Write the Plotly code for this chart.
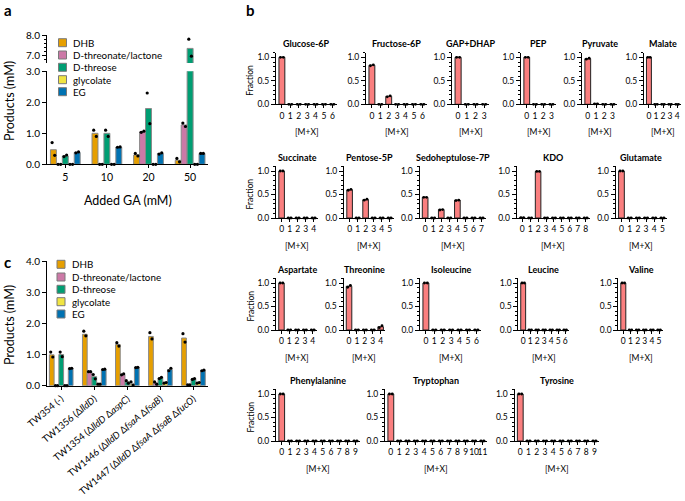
import plotly.graph_objects as go

# ------------------------------------------------------------------ data
# Panel a: products vs added glycolaldehyde (GA)
ga_levels = ["5", "10", "20", "50"]
product_names = ["DHB", "D-threonate/lactone", "D-threose", "glycolate", "EG"]
product_colors = ["#E69F00", "#CC79A7", "#009E73", "#F0E442", "#0072B2"]

a_dhb = [0.47, 1.00, 0.30, 0.13]
a_threonate = [0.0, 0.0, 1.05, 1.27]
a_threose = [0.27, 1.00, 1.80, 7.33]
a_glycolate = [0.0, 0.0, 0.0, 0.0]
a_eg = [0.38, 0.55, 0.35, 0.35]

a_dhb_rep1 = [0.70, 1.10, 0.35, 0.19]
a_dhb_rep2 = [0.29, 0.90, 0.27, 0.08]
a_threonate_rep1 = [0.0, 0.0, 1.03, 1.33]
a_threonate_rep2 = [0.0, 0.0, 1.07, 1.22]
a_threose_rep1 = [0.25, 1.10, 2.30, 7.79]
a_threose_rep2 = [0.30, 0.90, 1.31, 6.94]
a_glycolate_rep1 = [0.0, 0.0, 0.0, 0.0]
a_glycolate_rep2 = [0.0, 0.0, 0.0, 0.0]
a_eg_rep1 = [0.37, 0.55, 0.33, 0.35]
a_eg_rep2 = [0.40, 0.56, 0.37, 0.35]

# Panel c: products per strain
strains = [
    "TW354 (-)",
    "TW1356 (Δ<i>lldD</i>)",
    "TW1354 (Δ<i>lldD</i> Δ<i>aspC</i>)",
    "TW1446 (Δ<i>lldD</i> Δ<i>fsaA</i> Δ<i>fsaB</i>)",
    "TW1447 (Δ<i>lldD</i> Δ<i>fsaA</i> Δ<i>fsaB</i> Δ<i>fucO</i>)",
]
c_dhb = [0.99, 1.65, 1.32, 1.58, 1.53]
c_threonate = [0.0, 0.45, 0.36, 0.08, 0.03]
c_threose = [1.00, 0.29, 0.12, 0.25, 0.22]
c_glycolate = [0.0, 0.05, 0.05, 0.09, 0.09]
c_eg = [0.56, 0.52, 0.58, 0.52, 0.49]

c_dhb_rep1 = [1.08, 1.75, 1.38, 1.70, 1.67]
c_dhb_rep2 = [0.92, 1.60, 1.27, 1.50, 1.40]
c_threonate_rep1 = [0.0, 0.45, 0.35, 0.12, 0.03]
c_threonate_rep2 = [0.0, 0.45, 0.38, 0.05, 0.03]
c_threose_rep1 = [1.08, 0.36, 0.16, 0.23, 0.20]
c_threose_rep2 = [0.93, 0.22, 0.08, 0.27, 0.23]
c_glycolate_rep1 = [0.0, 0.05, 0.12, 0.08, 0.08]
c_glycolate_rep2 = [0.0, 0.05, 0.02, 0.10, 0.10]
c_eg_rep1 = [0.55, 0.52, 0.58, 0.48, 0.48]
c_eg_rep2 = [0.56, 0.53, 0.59, 0.56, 0.50]

# Panel b: isotopologue fractions [M+0 ... M+n]
metabolites = [
    "Glucose-6P", "Fructose-6P", "GAP+DHAP", "PEP", "Pyruvate", "Malate",
    "Succinate", "Pentose-5P", "Sedoheptulose-7P", "KDO", "Glutamate",
    "Aspartate", "Threonine", "Isoleucine", "Leucine", "Valine",
    "Phenylalanine", "Tryptophan", "Tyrosine",
]
fraction_mean = [
    [1.00, 0, 0, 0, 0, 0, 0],
    [0.83, 0, 0.17, 0, 0, 0, 0],
    [1.00, 0, 0, 0],
    [1.00, 0, 0, 0],
    [0.97, 0.01, 0, 0],
    [1.00, 0, 0, 0, 0],
    [1.00, 0, 0, 0, 0],
    [0.60, 0, 0.39, 0, 0, 0],
    [0.44, 0, 0.18, 0, 0.38, 0, 0, 0],
    [0.01, 0, 0.99, 0, 0, 0, 0, 0, 0],
    [1.00, 0, 0, 0, 0, 0],
    [1.00, 0, 0, 0, 0],
    [0.93, 0, 0, 0, 0.07],
    [1.00, 0, 0, 0, 0, 0, 0],
    [1.00, 0, 0, 0, 0, 0, 0],
    [1.00, 0, 0, 0, 0, 0],
    [1.00, 0, 0, 0, 0, 0, 0, 0, 0, 0],
    [1.00, 0, 0, 0, 0, 0, 0, 0, 0, 0, 0, 0],
    [1.00, 0, 0, 0, 0, 0, 0, 0, 0, 0],
]
fraction_rep1 = [
    [1.00, 0, 0, 0, 0, 0, 0],
    [0.82, 0, 0.16, 0, 0, 0, 0],
    [1.00, 0, 0, 0],
    [1.00, 0, 0, 0],
    [0.96, 0.01, 0, 0],
    [1.00, 0, 0, 0, 0],
    [1.00, 0, 0, 0, 0],
    [0.59, 0, 0.38, 0, 0, 0],
    [0.44, 0, 0.17, 0, 0.37, 0, 0, 0],
    [0.01, 0, 0.99, 0, 0, 0, 0, 0, 0],
    [1.00, 0, 0, 0, 0, 0],
    [1.00, 0, 0, 0, 0],
    [0.91, 0, 0, 0, 0.05],
    [1.00, 0, 0, 0, 0, 0, 0],
    [1.00, 0, 0, 0, 0, 0, 0],
    [1.00, 0, 0, 0, 0, 0],
    [1.00, 0, 0, 0, 0, 0, 0, 0, 0, 0],
    [1.00, 0, 0, 0, 0, 0, 0, 0, 0, 0, 0, 0],
    [1.00, 0, 0, 0, 0, 0, 0, 0, 0, 0],
]
fraction_rep2 = [
    [1.00, 0, 0, 0, 0, 0, 0],
    [0.84, 0, 0.18, 0, 0, 0, 0],
    [1.00, 0, 0, 0],
    [1.00, 0, 0, 0],
    [0.98, 0.01, 0, 0],
    [1.00, 0, 0, 0, 0],
    [1.00, 0, 0, 0, 0],
    [0.61, 0, 0.40, 0, 0, 0],
    [0.44, 0, 0.18, 0, 0.38, 0, 0, 0],
    [0.01, 0, 0.99, 0, 0, 0, 0, 0, 0],
    [1.00, 0, 0, 0, 0, 0],
    [1.00, 0, 0, 0, 0],
    [0.95, 0, 0, 0, 0.09],
    [1.00, 0, 0, 0, 0, 0, 0],
    [1.00, 0, 0, 0, 0, 0, 0],
    [1.00, 0, 0, 0, 0, 0],
    [1.00, 0, 0, 0, 0, 0, 0, 0, 0, 0],
    [1.00, 0, 0, 0, 0, 0, 0, 0, 0, 0, 0, 0],
    [1.00, 0, 0, 0, 0, 0, 0, 0, 0, 0],
]

# ------------------------------------------------------------------ layout helpers
W, H = 685, 501
FONT = "Lato, 'Open Sans', sans-serif"
BLACK = "#000000"


def px_x(p):
    return p / W


def px_y(p):
    return 1 - p / H


def xd(left, right):
    return [px_x(left), px_x(right)]


def yd(top, bottom):
    return [px_y(bottom), px_y(top)]


fig = go.Figure()
layout_axes = {}
annotations = []
shapes = []


def axis_common():
    return dict(showline=True, linecolor=BLACK, linewidth=1, showgrid=False,
                zeroline=False, ticks="outside", tickcolor=BLACK, tickwidth=1,
                automargin=False)


def text(x, y, s, size, bold=False, angle=0, xanchor="center"):
    annotations.append(dict(
        x=px_x(x), y=px_y(y), xref="paper", yref="paper", showarrow=False,
        text=f"<b>{s}</b>" if bold else s, textangle=angle,
        xanchor=xanchor, yanchor="middle",
        font=dict(family=FONT, size=size, color=BLACK)))


# ------------------------------------------------------------------ grouped bar panels (a, c)
BW = 0.143  # bar width in category units


def grouped_panel(k, means, reps1, reps2, ncat, clip_range=None):
    for j, (vals, r1, r2) in enumerate(zip(means, reps1, reps2)):
        xs = [i + (j - 2) * BW for i in range(ncat)]
        fig.add_trace(go.Bar(
            x=xs, y=vals, width=BW, xaxis=f"x{k}", yaxis=f"y{k}",
            marker=dict(color=product_colors[j], line=dict(color="#8a8a8a", width=1)),
            showlegend=False, hoverinfo="skip"))
        px_, py_ = [], []
        for i in range(ncat):
            for off, v in ((-0.22, r1[i]), (0.22, r2[i])):
                if clip_range is None or clip_range[0] <= v <= clip_range[1]:
                    px_.append(xs[i] + off * BW)
                    py_.append(v)
        fig.add_trace(go.Scatter(
            x=px_, y=py_, mode="markers", xaxis=f"x{k}", yaxis=f"y{k}",
            marker=dict(color=BLACK, size=3.2), cliponaxis=False,
            showlegend=False, hoverinfo="skip"))


a_means = [a_dhb, a_threonate, a_threose, a_glycolate, a_eg]
a_r1 = [a_dhb_rep1, a_threonate_rep1, a_threose_rep1, a_glycolate_rep1, a_eg_rep1]
a_r2 = [a_dhb_rep2, a_threonate_rep2, a_threose_rep2, a_glycolate_rep2, a_eg_rep2]

# lower segment of panel a
grouped_panel(1, a_means, a_r1, a_r2, 4, clip_range=(0, 3.0))
# upper segment (broken axis)
grouped_panel(2, a_means, a_r1, a_r2, 4, clip_range=(6.6, 8.0))

a_xrange = [-0.44, 3.43]
layout_axes["xaxis"] = dict(axis_common(), domain=xd(47, 208), anchor="y", range=a_xrange,
                            tickmode="array", tickvals=list(range(4)), ticktext=ga_levels,
                            ticklen=3, tickfont=dict(size=10.5), tickangle=0)
layout_axes["yaxis"] = dict(axis_common(), domain=yd(71.3, 164.3), anchor="x", range=[0, 3],
                            dtick=1, tickformat=".1f", ticklen=4, tickfont=dict(size=10))
layout_axes["xaxis2"] = dict(domain=xd(47, 208), anchor="y2", range=a_xrange, visible=False,
                             automargin=False)
layout_axes["yaxis2"] = dict(axis_common(), domain=yd(35, 63), anchor="x2", range=[6.6, 8.0],
                             tickmode="array", tickvals=[7, 8], ticktext=["7.0", "8.0"],
                             ticklen=4, tickfont=dict(size=10),
                             minor=dict(tickvals=[6.8, 7.2, 7.4, 7.6, 7.8], ticklen=2,
                                        ticks="outside", tickcolor=BLACK))

c_means = [c_dhb, c_threonate, c_threose, c_glycolate, c_eg]
c_r1 = [c_dhb_rep1, c_threonate_rep1, c_threose_rep1, c_glycolate_rep1, c_eg_rep1]
c_r2 = [c_dhb_rep2, c_threonate_rep2, c_threose_rep2, c_glycolate_rep2, c_eg_rep2]
grouped_panel(3, c_means, c_r1, c_r2, 5)
layout_axes["xaxis3"] = dict(axis_common(), domain=xd(47, 208), anchor="y3", range=[-0.43, 4.44],
                             tickmode="array", tickvals=list(range(5)), ticktext=strains,
                             tickangle=-40, ticklen=3, tickfont=dict(size=9.5))
layout_axes["yaxis3"] = dict(axis_common(), domain=yd(261, 385.7), anchor="x3", range=[0, 4],
                             dtick=1, tickformat=".1f", ticklen=4, tickfont=dict(size=10))

# axis titles, legends for a and c
text(128, 200, "Added GA (mM)", 12.5)
text(9, 101, "Products (mM)", 12.5, angle=-90)
text(9, 325, "Products (mM)", 12.5, angle=-90)


def manual_legend(x0, rows):
    for j, name in enumerate(product_names):
        yc = rows[j]
        shapes.append(dict(type="rect", xref="paper", yref="paper",
                           x0=px_x(x0), x1=px_x(x0 + 8), y0=px_y(yc + 4), y1=px_y(yc - 4),
                           fillcolor=product_colors[j], line=dict(color="#7a7a7a", width=1)))
        text(x0 + 12.5, yc, name, 9.8, xanchor="left")


manual_legend(58.5, [42.7, 55.0, 67.3, 79.7, 91.7])
manual_legend(57.0, [264.3, 277.0, 289.3, 301.7, 314.0])

# ------------------------------------------------------------------ panel b small multiples
row_zero_px = [104.3, 218.0, 330.0, 441.0]
PX_PER_UNIT = 47.0
b_axis_px = [  # (left, right, row)
    (276, 337, 0), (366, 427, 0), (452, 489, 0), (521, 556, 0), (582, 617, 0), (644, 681, 0),
    (276, 318, 1), (344, 394, 1), (419.5, 486, 1), (516.7, 590, 1), (615.7, 667, 1),
    (276, 317, 2), (343.5, 385, 2), (420, 481, 2), (518.3, 569, 2), (618.3, 663, 2),
    (276, 360, 3), (385, 487, 3), (514.5, 599, 3),
]
SALMON = "#FA7F7F"

for idx, name in enumerate(metabolites):
    k = idx + 4
    means = fraction_mean[idx]
    r1 = fraction_rep1[idx]
    r2 = fraction_rep2[idx]
    n = len(means)
    left, right, row = b_axis_px[idx]
    zero = row_zero_px[row]
    top = zero - 1.1 * PX_PER_UNIT
    xs = list(range(n))
    fig.add_trace(go.Bar(
        x=xs, y=means, width=0.7, xaxis=f"x{k}", yaxis=f"y{k}",
        marker=dict(color=SALMON, line=dict(color="#222222", width=1)),
        showlegend=False, hoverinfo="skip"))
    fig.add_trace(go.Scatter(
        x=[x - 0.17 for x in xs] + [x + 0.17 for x in xs], y=r1 + r2,
        mode="markers", xaxis=f"x{k}", yaxis=f"y{k}", cliponaxis=False,
        marker=dict(color=BLACK, size=2.8), showlegend=False, hoverinfo="skip"))
    layout_axes[f"xaxis{k}"] = dict(axis_common(), domain=xd(left, right), anchor=f"y{k}",
                                    range=[-0.7, n - 0.45], tickmode="linear", tick0=0, dtick=1,
                                    ticklen=3, tickangle=0, tickfont=dict(size=8.5))
    layout_axes[f"yaxis{k}"] = dict(axis_common(), domain=yd(top, zero), anchor=f"x{k}",
                                    range=[0, 1.1], tickmode="linear", tick0=0, dtick=0.5,
                                    tickformat=".1f", ticklen=4, tickfont=dict(size=8.5),
                                    minor=dict(dtick=0.1, ticklen=2, ticks="outside",
                                               tickcolor=BLACK))
    cx = (left + right) / 2
    text(cx, top - 9, name, 9, bold=True)
    text(cx, zero + 28, "[M+X]", 8.5)
    if idx in (0, 6, 11, 16):
        text(250, zero - 0.5 * PX_PER_UNIT, "Fraction", 8.5, angle=-90)

# panel letters
text(8, 10, "a", 15, bold=True)
text(250, 10, "b", 15, bold=True)
text(8, 262, "c", 15, bold=True)

fig.update_layout(
    width=W, height=H, margin=dict(l=0, r=0, t=0, b=0, autoexpand=False),
    paper_bgcolor="white", plot_bgcolor="white", barmode="overlay",
    font=dict(family=FONT, size=9, color=BLACK), showlegend=False,
    annotations=annotations, shapes=shapes, **layout_axes)

fig.write_html("out.html", config={"displayModeBar": False},
               post_script="document.body.style.margin='0px';"
                           "document.body.style.overflow='hidden';")
